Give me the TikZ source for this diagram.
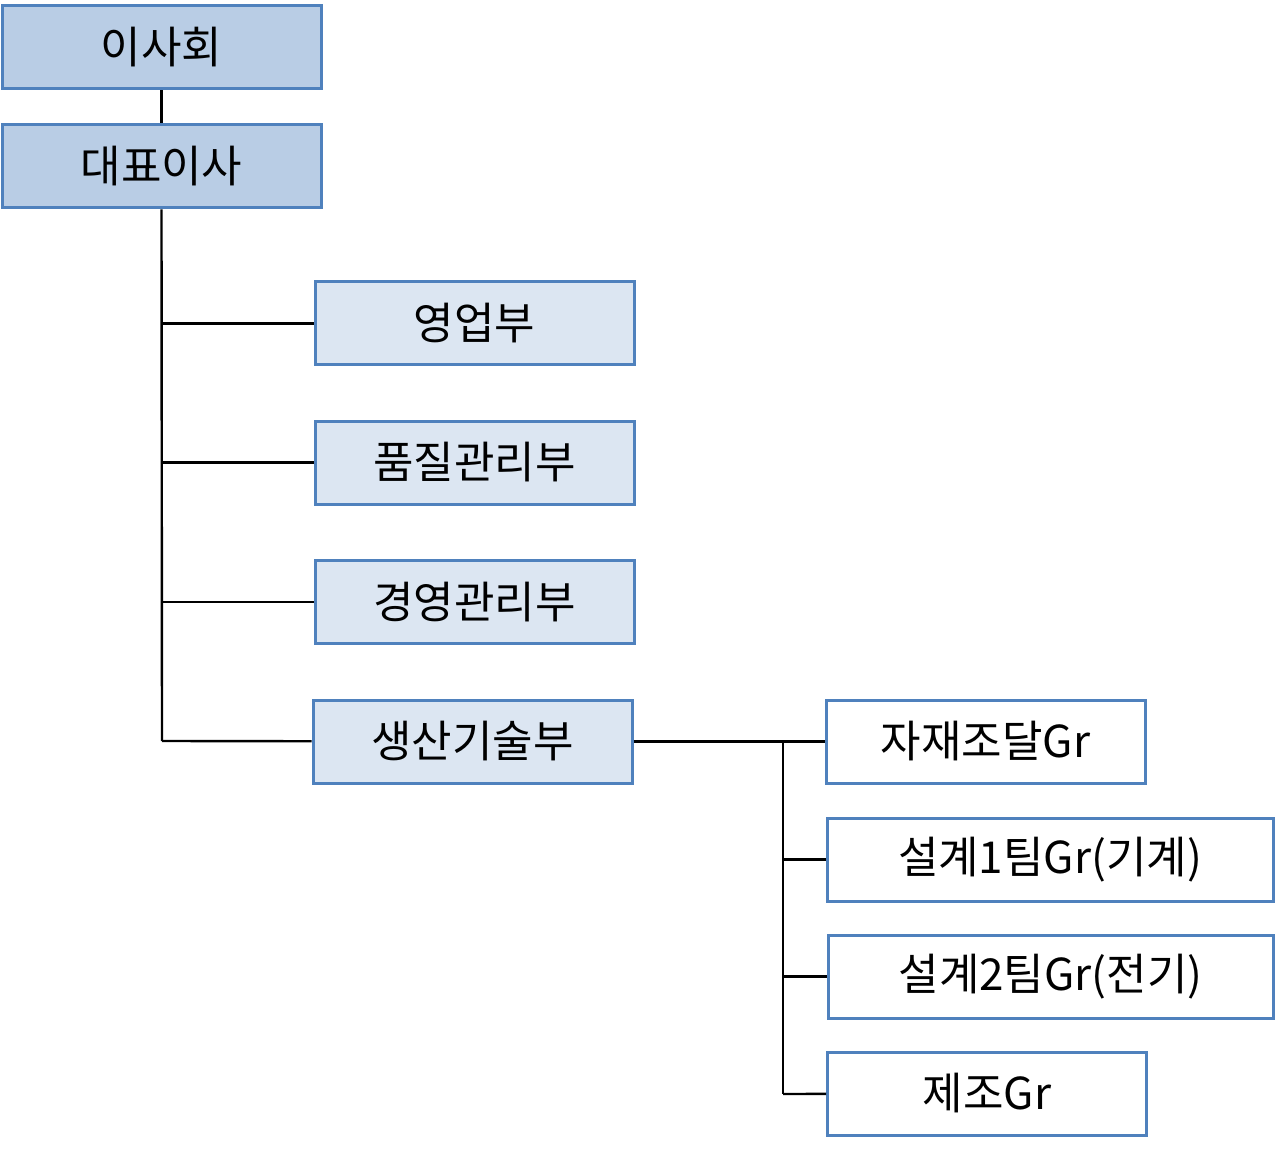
\documentclass[tikz,border=0pt]{standalone}
\usepackage{fontspec}
\newfontfamily\kr{Noto Sans CJK KR}
\definecolor{edgeblue}{RGB}{79,129,189}
\definecolor{topfill}{RGB}{185,205,229}
\definecolor{deptfill}{RGB}{220,230,242}
\begin{document}
\begin{tikzpicture}[x=0.5pt, y=0.5pt, line width=1.2pt]
    \tikzstyle{every node} = [font=\kr\fontsize{22pt}{26pt}\selectfont, inner sep=0pt]
    \tikzstyle{unit} = [draw=edgeblue, line width=1.5pt, minimum height=41.5pt, minimum width=159.5pt]
    \tikzstyle{top} = [unit, fill=topfill]
    \tikzstyle{dept} = [unit, fill=deptfill]
    \tikzstyle{team} = [unit, fill=white]

    \useasboundingbox (0,0) rectangle (1275,-1155);

    \node (board) [top] at (161.5,-47.5) {이사회};
    \node (ceo) [top] at (161.5,-166.5) {대표이사};
    \node (sales) [dept] at (474.5,-323.5) {영업부};
    \node (quality) [dept] at (474.5,-462.5) {품질관리부};
    \node (admin) [dept] at (474.5,-602) {경영관리부};
    \node (prod) [dept] at (472.5,-741.5) {생산기술부};
    \node (supply) [team] at (985.5,-741.5) {자재조달Gr};
    \node (mech) [team, minimum width=223pt] at (1050,-859.5) {설계1팀Gr(기계)};
    \node (elec) [team, minimum width=222.5pt] at (1050.5,-976.5) {설계2팀Gr(전기)};
    \node (mfg) [team] at (987,-1093.5) {제조Gr};

    \coordinate (trunk) at (162,-741);
    \coordinate (split) at (783,-741);
    \coordinate (foot) at (783,-1094);

    \draw (board) -- (ceo);
    \draw (ceo.south) -- (trunk);
    \draw (trunk |- sales) -- (sales);
    \draw (trunk |- quality) -- (quality);
    \draw (trunk |- admin) -- (admin);
    \draw (trunk) -- (prod);
    \draw (prod) -- (supply);
    \draw (split) -- (foot);
    \draw (split |- mech) -- (mech);
    \draw (split |- elec) -- (elec);
    \draw (foot) -- (mfg);
\end{tikzpicture}
\end{document}
